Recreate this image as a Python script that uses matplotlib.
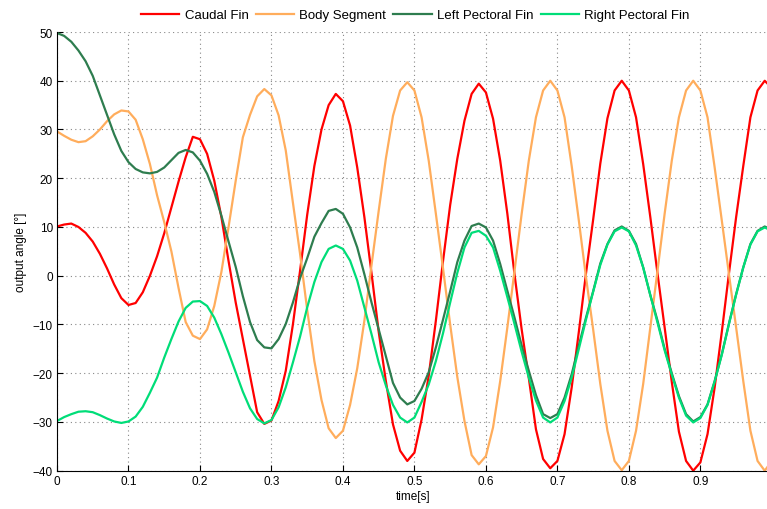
import numpy as np
import matplotlib

matplotlib.use("Agg")
import matplotlib.pyplot as plt
from matplotlib.ticker import FuncFormatter

time_s = np.arange(101) * 0.01

caudal_fin = [
    10.1, 10.5, 10.7, 10.0, 8.8, 7.0, 4.5, 1.5, -1.8, -4.6,
    -6.0, -5.6, -3.4, 0.0, 4.0, 8.7, 14.0, 19.3, 24.3, 28.5,
    28.0, 25.0, 19.5, 12.0, 3.0, -5.5, -13.0, -20.5, -28.0, -30.4,
    -29.7, -25.7, -19.5, -10.0, 1.0, 12.5, 22.5, 30.0, 35.0, 37.3,
    35.8, 30.8, 22.2, 12.0, 0.5, -11.5, -21.6, -30.5, -35.9, -38.0,
    -36.3, -29.5, -20.5, -9.2, 3.0, 14.5, 24.0, 31.8, 37.3, 39.4,
    37.6, 32.2, 23.6, 12.7, 0.3, -11.0, -21.0, -31.5, -37.6, -39.5,
    -38.0, -32.5, -22.9, -11.5, 0.5, 11.5, 23.0, 32.3, 38.0, 40.0,
    38.0, 32.5, 22.9, 12.0, 0.5, -10.6, -21.8, -32.0, -38.0, -40.0,
    -38.3, -32.5, -22.9, -11.5, 0.5, 12.0, 22.5, 32.5, 38.0, 40.0,
    38.5,
]

body_segment = [
    29.6, 28.7, 27.9, 27.4, 27.6, 28.6, 30.0, 31.7, 33.1, 33.9,
    33.7, 32.0, 28.0, 22.9, 16.5, 11.0, 5.0, -2.5, -9.5, -12.3,
    -13.0, -11.0, -6.2, 0.8, 10.0, 19.5, 28.4, 33.0, 36.8, 38.3,
    37.0, 32.9, 25.7, 15.0, 4.5, -7.0, -17.5, -25.5, -31.3, -33.3,
    -31.8, -26.5, -19.0, -9.2, 2.2, 13.3, 24.0, 32.8, 38.0, 39.7,
    38.0, 32.5, 23.6, 12.7, 1.5, -10.0, -20.8, -29.8, -36.8, -38.7,
    -37.0, -31.1, -21.6, -10.6, 1.0, 12.7, 23.6, 32.5, 38.0, 40.0,
    38.0, 32.5, 22.5, 11.3, -0.3, -11.0, -22.2, -31.8, -38.0, -39.9,
    -38.0, -31.8, -22.2, -10.6, 1.0, 12.7, 23.6, 32.5, 38.0, 40.0,
    38.0, 32.5, 22.2, 11.3, 0.3, -10.6, -21.6, -31.8, -38.0, -40.0,
    -38.0,
]

left_pectoral = [
    49.8, 49.2, 48.0, 46.2, 44.0, 41.0, 37.0, 33.0, 29.0, 25.6,
    23.3, 21.9, 21.2, 21.0, 21.3, 22.2, 23.7, 25.2, 25.8, 25.3,
    23.6, 20.9, 17.2, 12.3, 7.0, 1.8, -4.2, -9.5, -13.2, -14.7,
    -14.9, -13.0, -9.9, -5.5, -0.5, 3.6, 8.0, 10.8, 13.3, 13.7,
    12.7, 9.9, 5.8, 0.3, -5.5, -11.0, -16.5, -22.0, -25.0, -26.4,
    -25.7, -23.2, -19.8, -14.7, -9.0, -3.2, 2.8, 7.2, 10.2, 10.7,
    9.9, 7.2, 2.4, -3.1, -8.6, -14.3, -19.5, -24.5, -28.4, -29.2,
    -28.4, -25.0, -20.2, -14.3, -8.6, -3.2, 2.5, 6.5, 9.3, 10.1,
    9.2, 6.5, 1.7, -4.0, -9.2, -15.0, -20.0, -24.7, -28.4, -29.9,
    -29.0, -26.4, -21.6, -16.1, -9.8, -3.8, 1.7, 6.5, 9.2, 10.1,
    9.4,
]

right_pectoral = [
    -29.8, -29.0, -28.4, -27.9, -27.8, -28.0, -28.6, -29.3, -29.9, -30.2,
    -29.9, -28.9, -26.9, -24.0, -20.9, -16.8, -13.0, -9.4, -6.6, -5.3,
    -5.2, -6.2, -8.6, -12.0, -15.8, -19.8, -23.8, -27.2, -29.4, -30.3,
    -29.6, -27.0, -22.9, -17.8, -12.5, -6.5, -1.3, 2.8, 5.5, 6.2,
    5.5, 3.1, -1.0, -6.5, -12.0, -17.8, -22.5, -26.5, -29.1, -30.1,
    -29.1, -25.9, -22.3, -17.5, -11.8, -5.5, 0.6, 5.8, 8.8, 9.2,
    8.2, 5.8, 1.0, -4.4, -9.9, -15.6, -20.9, -25.6, -29.1, -30.1,
    -29.1, -25.7, -20.9, -15.0, -9.0, -3.3, 2.2, 6.4, 9.1, 9.9,
    9.1, 6.2, 1.7, -4.0, -9.6, -15.3, -20.3, -25.0, -28.7, -30.1,
    -29.2, -26.5, -21.7, -16.2, -9.9, -3.9, 1.7, 6.4, 9.1, 9.9,
    9.2,
]

series = [
    ("Caudal Fin", caudal_fin, "#ff0000"),
    ("Body Segment", body_segment, "#ffad5c"),
    ("Left Pectoral Fin", left_pectoral, "#2e7d4f"),
    ("Right Pectoral Fin", right_pectoral, "#00dd78"),
]

x_ticks = np.arange(10) * 0.1
y_ticks = np.arange(-40, 51, 10)

plt.rcParams["font.family"] = ["Liberation Sans", "DejaVu Sans"]
plt.rcParams["font.size"] = 8.5

fig = plt.figure(figsize=(7.67, 5.10), dpi=100)
ax = fig.add_axes([57 / 767, 38.3 / 510, 712 / 767, 438.7 / 510])

for name, values, color in series:
    ax.plot(time_s, values, color=color, linewidth=1.6, label=name)

ax.set_xlim(0, 0.996)
ax.set_ylim(-40, 50)
ax.set_xticks(x_ticks)
ax.set_yticks(y_ticks)
ax.xaxis.set_major_formatter(FuncFormatter(lambda v, _: f"{v:g}"))
ax.grid(True, linestyle=(0, (1, 3)), color="#888888", linewidth=0.8)
ax.set_axisbelow(True)
ax.tick_params(direction="in", length=4, width=0.8, pad=3, colors="black")

for side in ("top", "right"):
    ax.spines[side].set_visible(False)
for side in ("left", "bottom"):
    ax.spines[side].set_linewidth(0.8)

ax.set_xlabel("time[s]", labelpad=2)
ax.set_ylabel("output angle [°]", labelpad=4)

fig.legend(
    loc="center left",
    bbox_to_anchor=(141 / 767, 1 - 16 / 510),
    ncol=4,
    frameon=False,
    borderpad=0,
    borderaxespad=0,
    handlelength=2.9,
    handletextpad=0.4,
    columnspacing=0.55,
    fontsize=9.5,
)

fig.savefig("out.png", dpi=100)
plt.close(fig)
